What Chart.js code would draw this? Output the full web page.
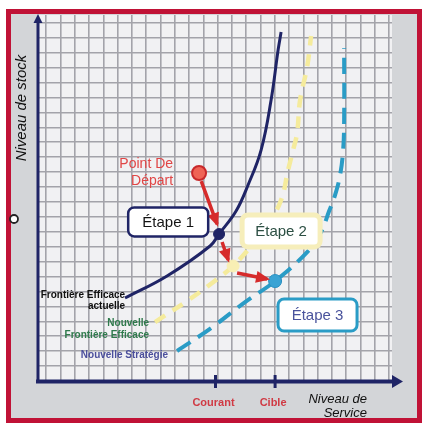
<!DOCTYPE html>
<html>
<head>
<meta charset="utf-8">
<script src="https://cdn.jsdelivr.net/npm/chart.js@4.4.1/dist/chart.umd.min.js"></script>
<style>
  html, body { margin: 0; padding: 0; background: #ffffff; }
  canvas { display: block; }
</style>
</head>
<body>
<canvas id="chart" width="422" height="423"></canvas>
<script>
// Service level (x) against stock level (y), both in grid units.

// Current efficient frontier
const currentFrontierX = [5.52, 8.46, 11.47, 12.10, 13.29, 14.13, 15.04, 15.74, 16.23, 16.44];
const currentFrontierY = [5.56, 7.04, 9.05, 9.85, 11.39, 13.14, 15.48, 18.83, 22.18, 23.39];

// New efficient frontier
const newFrontierX = [7.62, 10.07, 11.61, 13.08, 14.41, 15.53, 16.44, 16.93, 17.28, 17.56, 17.77, 18.26, 18.54];
const newFrontierY = [3.95, 5.50, 6.57, 7.71, 9.12, 10.52, 12.13, 14.14, 15.48, 16.62, 18.83, 21.05, 23.12];

// New strategy
const newStrategyX = [9.16, 11.54, 13.92, 16.02, 18.33, 19.24, 19.80, 20.22, 20.57, 20.78, 20.85, 20.85];
const newStrategyY = [2.01, 3.55, 5.29, 6.70, 8.71, 9.99, 11.39, 12.47, 13.81, 15.48, 17.49, 22.32];

// Starting point and the three steps
const startX = [10.70];
const startY = [13.94];
const step1X = [12.10];
const step1Y = [9.85];
const step2X = [13.08];
const step2Y = [7.71];
const step3X = [16.02];
const step3Y = [6.70];

// Moves between the stages
const moveFromX = [10.85, 12.31, 13.36];
const moveFromY = [13.40, 9.32, 7.24];
const moveToX = [11.96, 12.74, 15.46];
const moveToY = [10.52, 8.11, 6.84];

// Service level marks on the horizontal axis
const serviceTicks = [11.85, 16.02];
const serviceTickLabels = ['Courant', 'Cible'];

// Grid lines
const gridX = [...Array(25).keys()];
const gridY = [...Array(25).keys()];

const zip = (xs, ys) => xs.map((x, i) => ({ x, y: ys[i] }));

const NAVY = '#1f2466';
const TEAL = '#2a9cc6';
const YELLOW = '#f5eb9c';
const RED = '#d62b2b';
const FONT = '"Liberation Sans", Arial, sans-serif';

// Stage boxes, anchored at data positions
const stageBoxes = [
  { text: 'Étape 1', x: 8.54, y: 10.66, w: 80, h: 29, border: NAVY, lw: 2.5, color: '#141414' },
  { text: 'Étape 2', x: 16.44, y: 10.05, w: 78, h: 32, border: '#f6eebb', lw: 5, color: '#2c4f43' },
  { text: 'Étape 3', x: 18.99, y: 4.42, w: 79, h: 32, border: TEAL, lw: 3, color: '#4a539c' }
];

// Curve and point captions, right-aligned at data positions
const captions = [
  { lines: ['Frontière Efficace', 'actuelle'], x: 5.53, y: [5.76, 5.03], color: '#111111', font: 'bold 10px ' + FONT },
  { lines: ['Nouvelle', 'Frontière Efficace'], x: 7.20, y: [3.89, 3.08], color: '#2f7a4c', font: 'bold 10px ' + FONT },
  { lines: ['Nouvelle Stratégie'], x: 8.53, y: [1.74], color: '#4b4f9c', font: 'bold 10px ' + FONT },
  { lines: ['Point De', 'Départ'], x: 8.88, y: [14.54, 13.40], color: '#e04646', font: '14px ' + FONT }
];

const frame = {
  id: 'frame',
  beforeDraw(chart) {
    const { ctx, chartArea: a } = chart;
    ctx.save();
    ctx.fillStyle = '#ffffff';
    ctx.fillRect(0, 0, chart.width, chart.height);
    ctx.fillStyle = '#d3d5d8';
    ctx.fillRect(8, 11, 412, 410);
    ctx.strokeStyle = '#c01236';
    ctx.lineWidth = 5;
    ctx.strokeRect(8.5, 11.5, 411, 409);
    ctx.fillStyle = '#f1f1f3';
    ctx.fillRect(a.left, a.top, a.right - a.left, a.bottom - a.top);
    // punched hole on the left edge
    ctx.beginPath();
    ctx.arc(14, 219, 4, 0, Math.PI * 2);
    ctx.fillStyle = '#ffffff';
    ctx.fill();
    ctx.lineWidth = 1.8;
    ctx.strokeStyle = '#222222';
    ctx.stroke();
    ctx.restore();
  }
};

const overlay = {
  id: 'overlay',
  afterDatasetsDraw(chart) {
    const { ctx, chartArea: a, scales: { x, y } } = chart;
    ctx.save();

    // arrowheads on the stage moves
    const arrows = chart.getDatasetMeta(chart.data.datasets.findIndex(d => d.label === 'moves'));
    ctx.fillStyle = RED;
    for (let i = 0; i < moveFromX.length; i++) {
      const x0 = x.getPixelForValue(moveFromX[i]), y0 = y.getPixelForValue(moveFromY[i]);
      const x1 = x.getPixelForValue(moveToX[i]), y1 = y.getPixelForValue(moveToY[i]);
      const ang = Math.atan2(y1 - y0, x1 - x0);
      const len = 11, half = 6;
      ctx.beginPath();
      ctx.moveTo(x1 + Math.cos(ang) * 3, y1 + Math.sin(ang) * 3);
      ctx.lineTo(x1 - Math.cos(ang) * len - Math.sin(ang) * half, y1 - Math.sin(ang) * len + Math.cos(ang) * half);
      ctx.lineTo(x1 - Math.cos(ang) * len + Math.sin(ang) * half, y1 - Math.sin(ang) * len - Math.cos(ang) * half);
      ctx.closePath();
      ctx.fill();
    }

    // axes with arrowheads
    ctx.strokeStyle = NAVY;
    ctx.fillStyle = NAVY;
    ctx.lineWidth = 3;
    ctx.beginPath();
    ctx.moveTo(a.left - 1, a.bottom + 2);
    ctx.lineTo(a.left - 1, a.top + 6);
    ctx.stroke();
    ctx.beginPath();
    ctx.moveTo(a.left - 1, a.top - 1);
    ctx.lineTo(a.left - 5.5, a.top + 8);
    ctx.lineTo(a.left + 3.5, a.top + 8);
    ctx.closePath();
    ctx.fill();

    ctx.lineWidth = 4;
    ctx.beginPath();
    ctx.moveTo(a.left - 3, a.bottom + 0.5);
    ctx.lineTo(a.right + 2, a.bottom + 0.5);
    ctx.stroke();
    ctx.beginPath();
    ctx.moveTo(a.right + 11, a.bottom + 0.5);
    ctx.lineTo(a.right, a.bottom - 6);
    ctx.lineTo(a.right, a.bottom + 7);
    ctx.closePath();
    ctx.fill();

    // service level marks and their labels
    ctx.lineWidth = 3;
    ctx.textAlign = 'center';
    ctx.textBaseline = 'middle';
    serviceTicks.forEach((v, i) => {
      const px = x.getPixelForValue(v);
      ctx.beginPath();
      ctx.moveTo(px, a.bottom - 6);
      ctx.lineTo(px, a.bottom + 7);
      ctx.stroke();
      ctx.font = 'bold 11px ' + FONT;
      ctx.fillStyle = '#d03a44';
      ctx.fillText(serviceTickLabels[i], px - 2, a.bottom + 22);
    });

    // axis titles
    ctx.fillStyle = '#111111';
    ctx.font = 'italic 13px ' + FONT;
    ctx.textAlign = 'right';
    const tx = x.getPixelForValue(22.45);
    ctx.fillText('Niveau de', tx, a.bottom + 18);
    ctx.fillText('Service', tx, a.bottom + 32);

    ctx.save();
    ctx.translate(a.left - 17, a.top + 93);
    ctx.rotate(-Math.PI / 2);
    ctx.textAlign = 'center';
    ctx.font = 'italic 15px ' + FONT;
    ctx.fillText('Niveau de stock', 0, 0);
    ctx.restore();

    // captions
    ctx.textAlign = 'right';
    captions.forEach(c => {
      ctx.font = c.font;
      ctx.fillStyle = c.color;
      c.lines.forEach((t, j) => ctx.fillText(t, x.getPixelForValue(c.x), y.getPixelForValue(c.y[j])));
    });

    // stage boxes
    ctx.textAlign = 'center';
    stageBoxes.forEach(b => {
      const cx = x.getPixelForValue(b.x), cy = y.getPixelForValue(b.y);
      ctx.beginPath();
      ctx.roundRect(cx - b.w / 2, cy - b.h / 2, b.w, b.h, 6);
      ctx.fillStyle = '#ffffff';
      ctx.fill();
      ctx.lineWidth = b.lw;
      ctx.strokeStyle = b.border;
      ctx.stroke();
      ctx.font = '15px ' + FONT;
      ctx.fillStyle = b.color;
      ctx.fillText(b.text, cx, cy + 1);
    });

    ctx.restore();
  }
};

new Chart(document.getElementById('chart'), {
  type: 'scatter',
  data: {
    datasets: [
      { label: 'start', data: zip(startX, startY), pointRadius: 7, pointBackgroundColor: '#ef6355', pointBorderColor: '#c8282a', pointBorderWidth: 2, order: 0 },
      { label: 'step1', data: zip(step1X, step1Y), pointRadius: 5.5, pointBackgroundColor: NAVY, pointBorderColor: NAVY, order: 0 },
      { label: 'step2', data: zip(step2X, step2Y), pointRadius: 6, pointBackgroundColor: '#f8efb4', pointBorderColor: '#f8efb4', order: 0 },
      { label: 'step3', data: zip(step3X, step3Y), pointRadius: 6.5, pointBackgroundColor: '#3aa3d4', pointBorderColor: '#2a8fc0', pointBorderWidth: 1, order: 0 },
      {
        label: 'moves',
        data: moveFromX.flatMap((v, i) => [{ x: v, y: moveFromY[i] }, { x: moveToX[i], y: moveToY[i] }, { x: NaN, y: NaN }]),
        showLine: true, spanGaps: false, borderColor: RED, borderWidth: 3.5, pointRadius: 0, order: 1
      },
      { label: 'Frontière Efficace actuelle', data: zip(currentFrontierX, currentFrontierY), showLine: true, borderColor: NAVY, borderWidth: 3, tension: 0.4, pointRadius: 0, order: 2 },
      { label: 'Nouvelle Frontière Efficace', data: zip(newFrontierX, newFrontierY), showLine: true, borderColor: YELLOW, borderWidth: 4.5, borderDash: [12, 9], tension: 0.4, pointRadius: 0, order: 3 },
      { label: 'Nouvelle Stratégie', data: zip(newStrategyX, newStrategyY), showLine: true, borderColor: TEAL, borderWidth: 4, borderDash: [16, 9], tension: 0.4, pointRadius: 0, order: 3 }
    ]
  },
  options: {
    responsive: false,
    animation: false,
    events: [],
    layout: { padding: { left: 39, right: 30, top: 15, bottom: 42 } },
    plugins: { legend: { display: false }, tooltip: { enabled: false } },
    scales: {
      x: {
        type: 'linear', min: -0.5, max: 24.2,
        afterBuildTicks: s => { s.ticks = gridX.map(v => ({ value: v })); },
        ticks: { display: false },
        border: { display: false },
        grid: { color: '#a3a3aa', lineWidth: 1.6, drawTicks: false }
      },
      y: {
        type: 'linear', min: 0, max: 24.53,
        afterBuildTicks: s => { s.ticks = gridY.map(v => ({ value: v })); },
        ticks: { display: false },
        border: { display: false },
        grid: { color: '#a3a3aa', lineWidth: 1.6, drawTicks: false }
      }
    }
  },
  plugins: [frame, overlay]
});
</script>
</body>
</html>
